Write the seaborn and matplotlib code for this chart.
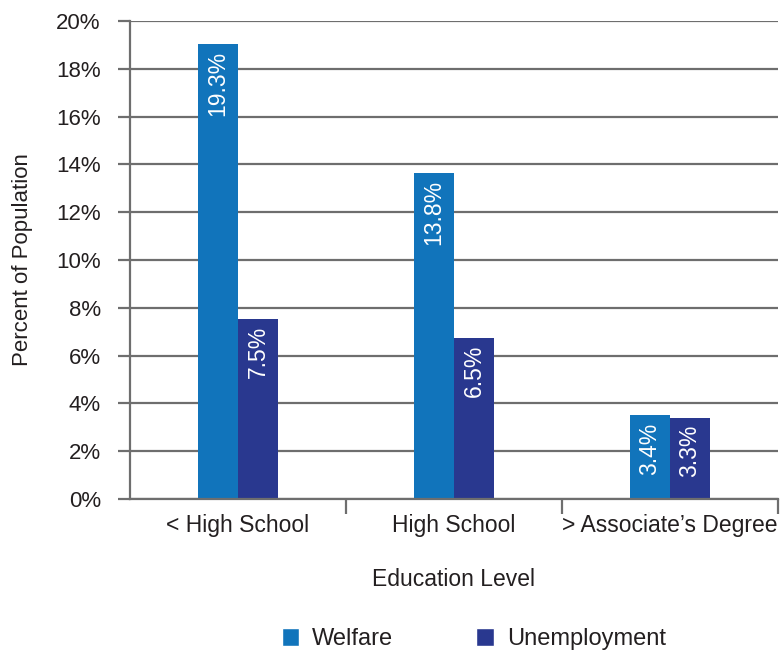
import matplotlib.pyplot as plt
import seaborn as sns
import pandas as pd
from matplotlib.ticker import FuncFormatter, FixedLocator
from matplotlib.patches import Patch

# data
categories = ["< High School", "High School", "> Associate\u2019s Degree"]
welfare = [19.05, 13.65, 3.5]
unemployment = [7.55, 6.75, 3.4]
welfare_labels = ["19.3%", "13.8%", "3.4%"]
unemployment_labels = ["7.5%", "6.5%", "3.3%"]
series = ["Welfare", "Unemployment"]
colors = ["#1174bb", "#29388f"]

df = pd.DataFrame({
    "Education Level": categories * 2,
    "value": welfare + unemployment,
    "series": [series[0]] * 3 + [series[1]] * 3,
})

sns.set_style("white")
plt.rcParams["font.family"] = ["Liberation Sans", "DejaVu Sans"]
grey = "#6e6e6e"
txt = "#231f20"

fig = plt.figure(figsize=(7.83, 6.5), dpi=100)
ax = fig.add_axes([0.166, 0.2323, 0.8276, 0.7354])

sns.barplot(data=df, x="Education Level", y="value", hue="series",
            palette=colors, width=0.37, saturation=1, linewidth=0,
            legend=False, ax=ax)

# labels inside bars
labels = welfare_labels + unemployment_labels
for patch, lab in zip(ax.patches, labels):
    x = patch.get_x() + patch.get_width() / 2
    top = patch.get_height()
    ax.text(x, top - 0.3, lab, rotation=90, ha="center", va="top",
            color="white", fontsize=16.5)

ax.set_ylim(0, 20)
ax.set_xlim(-0.5, 2.5)
ax.set_yticks(range(0, 21, 2))
ax.yaxis.set_major_formatter(FuncFormatter(lambda v, p: f"{int(v)}%"))
ax.grid(axis="y", color=grey, linewidth=1.6)
ax.set_axisbelow(True)

for s in ["top", "right"]:
    ax.spines[s].set_visible(False)
for s in ["left", "bottom"]:
    ax.spines[s].set_color(grey)
    ax.spines[s].set_linewidth(1.6)

ax.tick_params(axis="y", which="major", left=True, length=9, width=1.6,
               color=grey, labelsize=16, labelcolor=txt, pad=12)
ax.tick_params(axis="x", which="major", length=0, labelsize=16.5,
               labelcolor=txt, pad=11)
ax.xaxis.set_minor_locator(FixedLocator([0.5, 1.5, 2.5]))
ax.tick_params(axis="x", which="minor", bottom=True, length=11, width=1.6,
               color=grey)

ax.set_xlabel("Education Level", fontsize=16.5, color=txt, labelpad=22)
ax.set_ylabel("Percent of Population", fontsize=16, color=txt, labelpad=17)

handles = [Patch(facecolor=c, label=s) for c, s in zip(colors, series)]
fig.legend(handles=handles, loc="lower center", bbox_to_anchor=(0.605, -0.033),
           ncol=2, frameon=False, fontsize=17, handlelength=0.75,
           handleheight=0.75, columnspacing=3.5, handletextpad=0.55,
           labelcolor=txt)

fig.savefig("out.png", dpi=100)
